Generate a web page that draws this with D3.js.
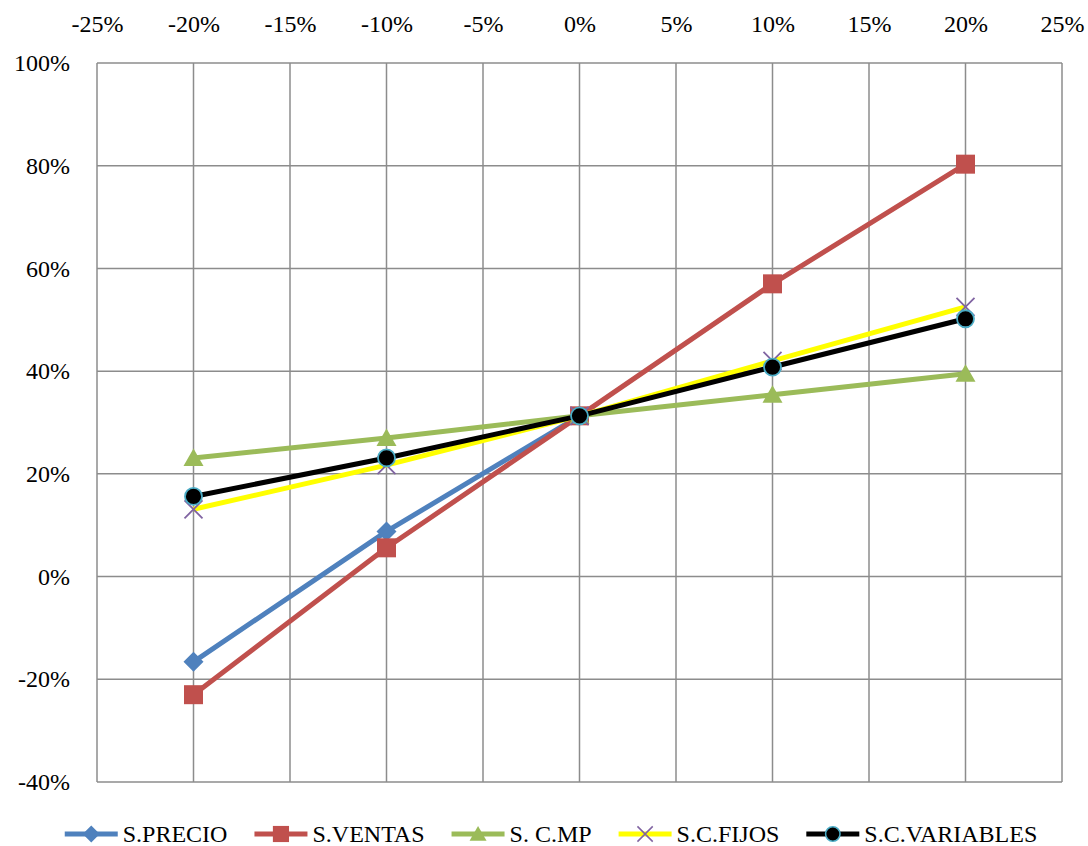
<!DOCTYPE html>
<html>
<head>
<meta charset="utf-8">
<script src="https://cdn.jsdelivr.net/npm/d3@7"></script>
<style>
  html, body { margin: 0; padding: 0; background: #fff; }
  svg { display: block; }
  text { font-family: "Liberation Serif", "Times New Roman", serif; fill: #000; }
</style>
</head>
<body>
<svg id="chart" width="1088" height="846"></svg>
<script>
// Sensitivity scenarios (variation of each variable)
const scenarios = [-0.20, -0.10, 0.00, 0.10, 0.20];
const xTicks = [-0.25, -0.20, -0.15, -0.10, -0.05, 0, 0.05, 0.10, 0.15, 0.20, 0.25];
const yTicks = [-0.4, -0.2, 0, 0.2, 0.4, 0.6, 0.8, 1.0];

// Resulting indicator for each sensitivity
const sPrecio     = [-0.166, 0.088, 0.313, null, null];
const sVentas     = [-0.230, 0.056, 0.313, 0.570, 0.803];
const sCMP        = [0.231, 0.270, 0.313, 0.354, 0.395];
const sCFijos     = [0.131, 0.217, 0.313, 0.420, 0.525];
const sCVariables = [0.156, 0.231, 0.313, 0.408, 0.502];

const seriesNames = ["S.PRECIO", "S.VENTAS", "S. C.MP", "S.C.FIJOS", "S.C.VARIABLES"];
const seriesValues = [sPrecio, sVentas, sCMP, sCFijos, sCVariables];
const seriesColors = ["#4F81BD", "#C0504D", "#9BBB59", "#FFFF00", "#000000"];
const seriesMarkers = ["diamond", "square", "triangle", "x", "circle"];

const svg = d3.select("#chart");
const plot = { left: 97, right: 1062, top: 63, bottom: 782 };
const serif = "'Liberation Serif', 'Times New Roman', serif";

const x = d3.scaleLinear().domain([-0.25, 0.25]).range([plot.left, plot.right]);
const y = d3.scaleLinear().domain([-0.4, 1.0]).range([plot.bottom, plot.top]);
// Percent labels with a plain hyphen for negatives
const fmt = d3.format(".0%");
const pct = v => fmt(v).replace("\u2212", "-");

// Plot background
svg.append("rect")
  .attr("x", plot.left).attr("y", plot.top)
  .attr("width", plot.right - plot.left).attr("height", plot.bottom - plot.top)
  .attr("fill", "#fff");

// Grid lines
const gridColor = "#8c8c8c";
svg.append("g").selectAll("line").data(xTicks).join("line")
  .attr("x1", d => x(d)).attr("x2", d => x(d))
  .attr("y1", plot.top).attr("y2", plot.bottom)
  .attr("stroke", gridColor).attr("stroke-width", 1.5);
svg.append("g").selectAll("line").data(yTicks).join("line")
  .attr("x1", plot.left).attr("x2", plot.right)
  .attr("y1", d => y(d)).attr("y2", d => y(d))
  .attr("stroke", gridColor).attr("stroke-width", 1.5);

// Axes (labels only; gridlines drawn separately)
const xAxis = d3.axisTop(x).tickValues(xTicks).tickFormat(pct).tickSize(0).tickPadding(0);
const gx = svg.append("g").attr("transform", `translate(0,32)`).call(xAxis);
gx.attr("font-family", null).attr("font-size", null);
gx.select(".domain").remove();
gx.selectAll("text").attr("dy", 0)
  .style("font-family", serif).style("font-size", "24px").style("fill", "#000");

const yAxis = d3.axisLeft(y).tickValues(yTicks).tickFormat(pct).tickSize(0).tickPadding(0);
const gy = svg.append("g").attr("transform", `translate(70,0)`).call(yAxis);
gy.attr("font-family", null).attr("font-size", null);
gy.select(".domain").remove();
gy.selectAll("text").attr("dy", "0.32em")
  .style("font-family", serif).style("font-size", "24px").style("fill", "#000");

// Marker drawing
function drawMarker(g, type, color) {
  if (type === "diamond") {
    g.append("path").attr("d", "M0,-10L10,0L0,10L-10,0Z").attr("fill", color);
  } else if (type === "square") {
    g.append("rect").attr("x", -9.5).attr("y", -9.5).attr("width", 19).attr("height", 19)
      .attr("fill", color);
  } else if (type === "triangle") {
    g.append("path").attr("d", "M0,-9.5L10,8L-10,8Z").attr("fill", color);
  } else if (type === "x") {
    g.append("path").attr("d", "M-9,-9L9,9M-9,9L9,-9")
      .attr("stroke", "#8064A2").attr("stroke-width", 1.8).attr("fill", "none");
  } else if (type === "circle") {
    g.append("circle").attr("r", 8.5).attr("fill", "#000")
      .attr("stroke", "#4BACC6").attr("stroke-width", 1.8);
  }
}

// Series lines and markers
const line = d3.line()
  .defined(d => d.v !== null)
  .x(d => x(d.s)).y(d => y(d.v));

seriesValues.forEach((vals, i) => {
  const pts = scenarios.map((s, j) => ({ s, v: vals[j] }));
  const g = svg.append("g");
  g.append("path").datum(pts)
    .attr("d", line)
    .attr("fill", "none")
    .attr("stroke", seriesColors[i])
    .attr("stroke-width", 5)
    .attr("stroke-linejoin", "round");
  pts.filter(d => d.v !== null).forEach(d => {
    const m = g.append("g").attr("transform", `translate(${x(d.s)},${y(d.v)})`);
    drawMarker(m, seriesMarkers[i], seriesColors[i]);
  });
});

// Legend
const legend = svg.append("g");
const legendY = 834;
const lineLen = 53, textGap = 5, itemGap = 27;
const items = [];
let cursor = 0;
seriesNames.forEach((name, i) => {
  const item = legend.append("g");
  item.append("line")
    .attr("x1", 0).attr("x2", lineLen).attr("y1", 0).attr("y2", 0)
    .attr("stroke", seriesColors[i]).attr("stroke-width", 5);
  const m = item.append("g");
  drawMarker(m, seriesMarkers[i], seriesColors[i]);
  m.attr("transform", `translate(${lineLen / 2},0) scale(0.85)`);
  const t = item.append("text")
    .attr("x", lineLen + textGap).attr("y", 0).attr("dy", "0.35em")
    .style("font-family", serif).style("font-size", "24px")
    .text(name);
  const w = t.node().getComputedTextLength();
  items.push({ item, offset: cursor });
  cursor += lineLen + textGap + w + itemGap;
});
const totalW = cursor - itemGap;
const startX = 551 - totalW / 2;
items.forEach(({ item, offset }) => item.attr("transform", `translate(${startX + offset},${legendY})`));
</script>
</body>
</html>
